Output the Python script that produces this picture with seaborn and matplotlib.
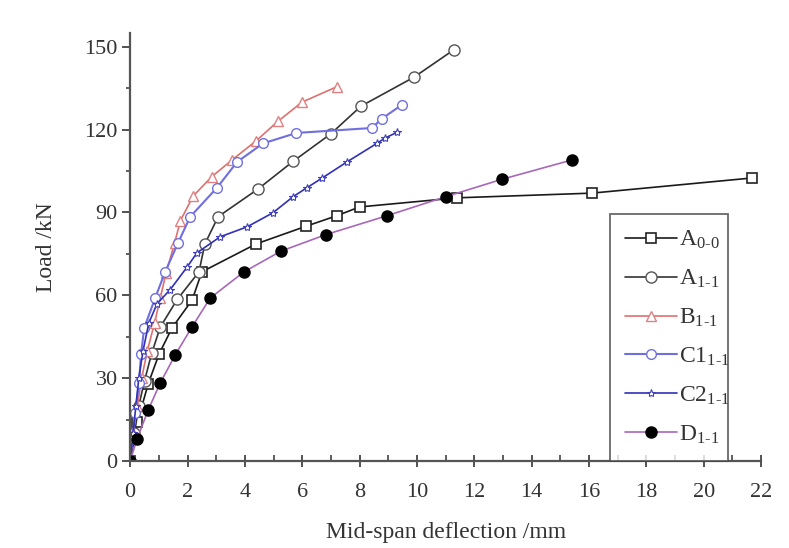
import numpy as np
import pandas as pd
import matplotlib
matplotlib.use("Agg")
import matplotlib.pyplot as plt
from matplotlib.ticker import MultipleLocator
import seaborn as sns

# ---- data ----
a00_x = [0, 0.25, 0.63, 1.01, 1.46, 2.16, 2.5, 4.39, 6.13, 7.2, 8.0, 11.4, 16.1, 21.7]
a00_y = [0, 14, 28, 38.8, 48.2, 58.3, 68.5, 78.6, 85, 88.8, 92, 95.3, 97, 102.5]

a11_x = [0, 0.15, 0.3, 0.5, 0.75, 1.05, 1.64, 2.4, 2.6, 3.07, 4.46, 5.68, 7.0, 8.05, 9.9, 11.3]
a11_y = [0, 10, 20, 29, 39, 48.5, 58.5, 68.5, 78.5, 88.5, 98.5, 108.5, 118.5, 128.5, 139, 149]

b11_x = [0, 0.1, 0.25, 0.4, 0.6, 0.85, 1.05, 1.25, 1.55, 1.75, 2.2, 2.85, 3.55, 4.4, 5.15, 6.0, 7.2]
b11_y = [0, 10, 20, 30, 40, 50, 59, 68, 79, 87, 96, 103, 109, 116, 123, 130, 135.5]

c1_x = [0, 0.08, 0.17, 0.31, 0.38, 0.49, 0.87, 1.22, 1.67, 2.09, 3.03, 3.73, 4.63, 5.8, 8.43, 8.78, 9.48]
c1_y = [0, 8, 17.5, 28.3, 38.8, 48.2, 59, 68.5, 79, 88.4, 99, 108.3, 115, 118.8, 120.6, 124, 129]

c2_x = [0, 0.1, 0.2, 0.3, 0.45, 0.65, 0.94, 1.39, 1.99, 2.33, 3.14, 4.08, 4.98, 5.68, 6.17, 6.7, 7.56, 8.6, 8.9, 9.3]
c2_y = [0, 10, 20, 30, 40, 50, 57, 62, 70.3, 75.4, 81.2, 84.8, 89.9, 95.7, 99, 102.5, 108.3, 115, 117, 119]

d11_x = [0, 0.24, 0.63, 1.05, 1.57, 2.16, 2.79, 3.97, 5.26, 6.83, 8.95, 11.0, 12.96, 15.4]
d11_y = [0, 8, 18.5, 28.3, 38.4, 48.6, 59, 68.5, 76, 82, 88.8, 95.7, 102, 109]

labels = [r"A$_{0\text{-}0}$", r"A$_{1\text{-}1}$", r"B$_{1\text{-}1}$",
          r"C1$_{1\text{-}1}$", r"C2$_{1\text{-}1}$", r"D$_{1\text{-}1}$"]

sns.set_theme(style="white")
plt.rcParams['font.family'] = ['Liberation Serif', 'DejaVu Serif']
plt.rcParams['mathtext.fontset'] = 'custom'
plt.rcParams['mathtext.rm'] = 'Liberation Serif'
plt.rcParams['mathtext.it'] = 'Liberation Serif'

fig = plt.figure(figsize=(7.89, 5.48), dpi=100)
ax = fig.add_axes([0.165, 0.1588, 0.7995, 0.781])

series = [
    (a00_x, a00_y, dict(color="#1a1a1a", marker="s", ms=7.5, mfc="white", mec="#222222", mew=1.2, lw=1.2)),
    (a11_x, a11_y, dict(color="#333333", marker="o", ms=8, mfc="white", mec="#555555", mew=1.0, lw=1.2)),
    (b11_x, b11_y, dict(color="#e07070", marker="^", ms=7, mfc="white", mec="#e08080", mew=1.0, lw=1.2)),
    (c1_x, c1_y, dict(color="#6f6fe0", marker="o", ms=7, mfc="white", mec="#7070e0", mew=1.0, lw=1.5)),
    (c2_x, c2_y, dict(color="#3030b8", marker="*", ms=6, mfc="white", mec="#4040c0", mew=0.8, lw=1.2)),
    (d11_x, d11_y, dict(color="#a868b8", marker="o", ms=8, mfc="black", mec="black", mew=1.0, lw=1.2)),
]

for (xs, ys, st), lab in zip(series, labels):
    df = pd.DataFrame({"x": xs, "y": ys})
    sns.lineplot(data=df, x="x", y="y", ax=ax, sort=False, estimator=None,
                 label=lab, **st)

ax.set_xlim(0, 22)
ax.set_ylim(0, 155)
ax.xaxis.set_major_locator(MultipleLocator(2))
ax.xaxis.set_minor_locator(MultipleLocator(1))
ax.yaxis.set_major_locator(MultipleLocator(30))
ax.yaxis.set_minor_locator(MultipleLocator(15))

for s in ["top", "right"]:
    ax.spines[s].set_visible(False)
for s in ["left", "bottom"]:
    ax.spines[s].set_color("#555555")
    ax.spines[s].set_linewidth(1.6)

ax.tick_params(axis="x", which="major", direction="inout", length=8, width=1.3,
               colors="#444444", labelcolor="#333333", labelsize=16, pad=12, bottom=True)
ax.tick_params(axis="x", which="minor", direction="in", length=4, width=1.2,
               colors="#444444", bottom=True)
ax.tick_params(axis="y", which="major", direction="out", length=6, width=1.3,
               colors="#444444", labelcolor="#333333", labelsize=16, pad=3, left=True)
ax.tick_params(axis="y", which="minor", direction="out", length=3, width=1.2,
               colors="#444444", left=True)

ax.set_xlabel("Mid-span deflection /mm", fontsize=17, color="#333333", labelpad=14)
ax.set_ylabel("Load /kN", fontsize=17, color="#333333", labelpad=20)

leg = ax.legend(loc="lower left", bbox_to_anchor=(0.76, 0.0, 0.188, 0.58), mode="expand",
                frameon=True, fancybox=False, fontsize=17, handlelength=2.2,
                handletextpad=0.1, labelspacing=0.7, borderpad=0.65, borderaxespad=0)
leg.get_frame().set_edgecolor("#444444")
leg.get_frame().set_linewidth(1.3)
for t in leg.get_texts():
    t.set_color("#333333")

fig.savefig("out.png", dpi=100, facecolor="white")
